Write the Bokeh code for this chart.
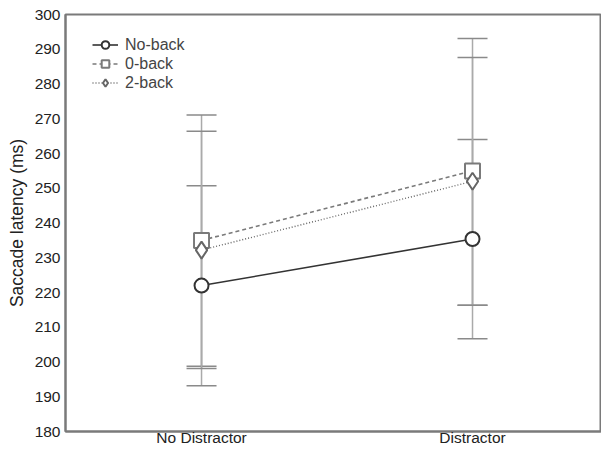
from bokeh.plotting import figure
from bokeh.models import Range1d, FixedTicker, Legend, LegendItem, Whisker, ColumnDataSource
from bokeh.embed import file_html
from bokeh.resources import INLINE

categories = ["No Distractor", "Distractor"]
series = ["No-back", "0-back", "2-back"]
means = {
    "No-back": [222, 235.4],
    "0-back": [235, 255],
    "2-back": [232.2, 252],
}
upper = {
    "No-back": [250.7, 264.0],
    "0-back": [271.1, 293.1],
    "2-back": [266.4, 287.6],
}
lower = {
    "No-back": [193.2, 206.7],
    "0-back": [198.8, 216.3],
    "2-back": [198.1, 216.3],
}
y_ticks = list(range(180, 301, 10))

styles = {
    "No-back": dict(color="#333333", dash="solid", marker="circle", size=14, lw=1.6),
    "0-back": dict(color="#7a7a7a", dash="4 3", marker="square", size=15, lw=1.6),
    "2-back": dict(color="#666666", dash="1 2", marker="diamond", size=17, lw=1.4),
}

p = figure(width=601, height=448, output_backend="svg", toolbar_location=None,
           x_range=Range1d(0.498, 2.476), y_range=Range1d(180, 300),
           min_border_left=65, min_border_right=0, min_border_top=14, min_border_bottom=0)
p.grid.visible = False
p.outline_line_color = "#7a7a7a"
p.outline_line_width = 2

xs = [i + 1 for i in range(len(categories))]

# error bars
for s in series:
    src = ColumnDataSource(dict(x=xs, upper=upper[s], lower=lower[s]))
    w = Whisker(source=src, base="x", upper="upper", lower="lower",
                line_color="#aaaaaa", line_width=1.5)
    w.upper_head.size = 30
    w.lower_head.size = 30
    w.upper_head.line_color = "#8a8a8a"
    w.lower_head.line_color = "#8a8a8a"
    w.upper_head.line_width = 1.5
    w.lower_head.line_width = 1.5
    p.add_layout(w)

items = []
for s in series:
    st = styles[s]
    ln = p.line(xs, means[s], line_color=st["color"], line_dash=st["dash"], line_width=st["lw"])
    sc = p.scatter(xs, means[s], marker=st["marker"], size=st["size"], fill_color="white",
                   line_color=st["color"], line_width=2)
    items.append(LegendItem(label=s, renderers=[ln, sc]))

legend = Legend(items=items, location=(27, 339), border_line_color=None,
                background_fill_alpha=0, label_text_font="Liberation Sans",
                label_text_font_size="16px", label_height=19, glyph_width=26,
                glyph_height=19, spacing=0, padding=0, margin=0, label_standoff=7)
p.add_layout(legend)

p.xaxis.ticker = FixedTicker(ticks=xs)
p.xaxis.major_label_overrides = {x: c for x, c in zip(xs, categories)}
p.yaxis.ticker = FixedTicker(ticks=y_ticks)
for ax in (p.xaxis[0], p.yaxis[0]):
    ax.major_tick_line_color = None
    ax.minor_tick_line_color = None
    ax.major_tick_out = 0
    ax.major_tick_in = 0
    ax.minor_tick_out = 0
    ax.minor_tick_in = 0
    ax.axis_line_color = "#7a7a7a"
    ax.axis_line_width = 2
    ax.major_label_text_font = "Liberation Sans"
    ax.major_label_text_font_size = "15.5px"
    ax.major_label_text_color = "#222222"
    ax.major_label_standoff = 5
p.xaxis.major_label_standoff = -3
p.yaxis.axis_label = "Saccade latency (ms)"
p.yaxis.axis_label_text_font = "Liberation Sans"
p.yaxis.axis_label_text_font_style = "normal"
p.yaxis.axis_label_text_font_size = "17.5px"
p.yaxis.axis_label_text_color = "#222222"
p.yaxis.axis_label_standoff = 5

open("out.html", "w").write(file_html(p, INLINE))
